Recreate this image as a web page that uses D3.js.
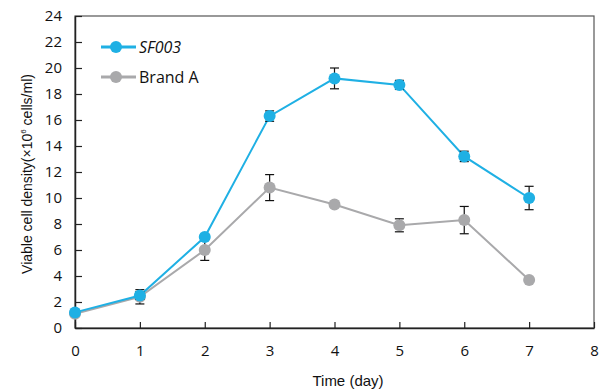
<!DOCTYPE html>
<html>
<head>
<meta charset="utf-8">
<script src="https://cdn.jsdelivr.net/npm/d3@7"></script>
<style>
  body { margin: 0; background: #fff; }
  svg { display: block; }
</style>
</head>
<body>
<div id="chart"></div>
<script>
(() => {
    const days = [0, 1, 2, 3, 4, 5, 6, 7];
    const sf003 = [1.2, 2.5, 7.0, 16.3, 19.2, 18.7, 13.2, 10.0];
    const sf003Err = [0.1, 0.3, 0.2, 0.4, 0.8, 0.35, 0.4, 0.9];
    const brandA = [1.1, 2.4, 6.0, 10.8, 9.5, 7.9, 8.3, 3.7];
    const brandAErr = [0.1, 0.55, 0.8, 1.0, 0.2, 0.5, 1.05, 0.1];
    const xTicks = [0, 1, 2, 3, 4, 5, 6, 7, 8];
    const yTicks = [0, 2, 4, 6, 8, 10, 12, 14, 16, 18, 20, 22, 24];

    const series = [
        { name: 'SF003', values: sf003, err: sf003Err, color: '#1fb0e4', italic: true },
        { name: 'Brand A', values: brandA, err: brandAErr, color: '#a9a9ab', italic: false },
    ];

    const width = 609;
    const height = 391;
    const margin = { top: 16, right: 15, bottom: 63, left: 75 };
    const tickFont = 'Open Sans, Noto Sans, sans-serif';
    const titleFont = 'Liberation Sans, Arial, sans-serif';

    const svg = d3.select('#chart')
        .append('svg')
        .attr('width', width)
        .attr('height', height);

    const x = d3.scaleLinear().domain([0, 8]).range([margin.left, width - margin.right]);
    const y = d3.scaleLinear().domain([0, 24]).range([height - margin.bottom, margin.top]);

    // Frame
    svg.append('rect')
        .attr('x', x(0))
        .attr('y', y(24))
        .attr('width', x(8) - x(0))
        .attr('height', y(0) - y(24))
        .attr('fill', 'none')
        .attr('stroke', '#555')
        .attr('stroke-width', 1.2);

    // Axes (ticks inward)
    const xAxis = svg.append('g')
        .attr('transform', `translate(0, ${y(0)})`)
        .call(d3.axisBottom(x).tickValues(xTicks).tickSizeInner(-6).tickSizeOuter(0).tickPadding(17));
    const yAxis = svg.append('g')
        .attr('transform', `translate(${x(0)}, 0)`)
        .call(d3.axisLeft(y).tickValues(yTicks).tickSizeInner(-7).tickSizeOuter(0).tickPadding(13));

    [xAxis, yAxis].forEach((g) => {
        g.select('.domain').attr('stroke', '#222').attr('stroke-width', 1.5);
        g.selectAll('.tick line').attr('stroke', '#222').attr('stroke-width', 1.2);
        g.selectAll('.tick text')
            .attr('fill', '#111')
            .style('font-family', tickFont)
            .style('font-size', '15px');
    });

    const line = d3.line()
        .x((d, i) => x(days[i]))
        .y((d) => y(d));

    // Draw Brand A first so SF003 sits on top where they overlap
    [...series].reverse().forEach((s) => {
        const g = svg.append('g');
        g.append('path')
            .datum(s.values)
            .attr('d', line)
            .attr('fill', 'none')
            .attr('stroke', s.color)
            .attr('stroke-width', 2);

        // Error bars
        const eb = g.selectAll('.eb')
            .data(s.values)
            .enter()
            .append('g');
        eb.append('line')
            .attr('x1', (d, i) => x(days[i]))
            .attr('x2', (d, i) => x(days[i]))
            .attr('y1', (d, i) => y(d - s.err[i]))
            .attr('y2', (d, i) => y(d + s.err[i]))
            .attr('stroke', '#111')
            .attr('stroke-width', 1.2);
        [-1, 1].forEach((sign) => {
            eb.append('line')
                .attr('x1', (d, i) => x(days[i]) - 4.5)
                .attr('x2', (d, i) => x(days[i]) + 4.5)
                .attr('y1', (d, i) => y(d + sign * s.err[i]))
                .attr('y2', (d, i) => y(d + sign * s.err[i]))
                .attr('stroke', '#111')
                .attr('stroke-width', 1.2);
        });

        g.selectAll('circle')
            .data(s.values)
            .enter()
            .append('circle')
            .attr('cx', (d, i) => x(days[i]))
            .attr('cy', (d) => y(d))
            .attr('r', 6)
            .attr('fill', s.color);
    });

    // Legend
    const legend = svg.append('g');
    series.forEach((s, i) => {
        const ly = 47 + i * 30;
        legend.append('line')
            .attr('x1', 101).attr('x2', 136)
            .attr('y1', ly).attr('y2', ly)
            .attr('stroke', s.color)
            .attr('stroke-width', 3);
        legend.append('circle')
            .attr('cx', 116).attr('cy', ly)
            .attr('r', 6)
            .attr('fill', s.color);
        legend.append('text')
            .attr('x', 139)
            .attr('y', ly + 6)
            .text(s.name)
            .style('font-family', tickFont)
            .style('font-size', '16px')
            .style('font-style', s.italic ? 'italic' : 'normal')
            .attr('fill', '#111');
    });

    // Axis titles
    svg.append('text')
        .attr('x', 348)
        .attr('y', 386)
        .attr('text-anchor', 'middle')
        .style('font-family', titleFont)
        .style('font-size', '15px')
        .attr('fill', '#111')
        .text('Time (day)');

    const yTitle = svg.append('text')
        .attr('transform', `translate(32, ${(y(0) + y(24)) / 2 + 2}) rotate(-90)`)
        .attr('text-anchor', 'middle')
        .style('font-family', titleFont)
        .style('font-size', '14px')
        .attr('fill', '#111');
    yTitle.append('tspan').text('Viable cell density(×10');
    yTitle.append('tspan').attr('dy', -6).style('font-size', '8px').text('6');
    yTitle.append('tspan').attr('dy', 6).text(' cells/ml)');
})();
</script>
</body>
</html>
